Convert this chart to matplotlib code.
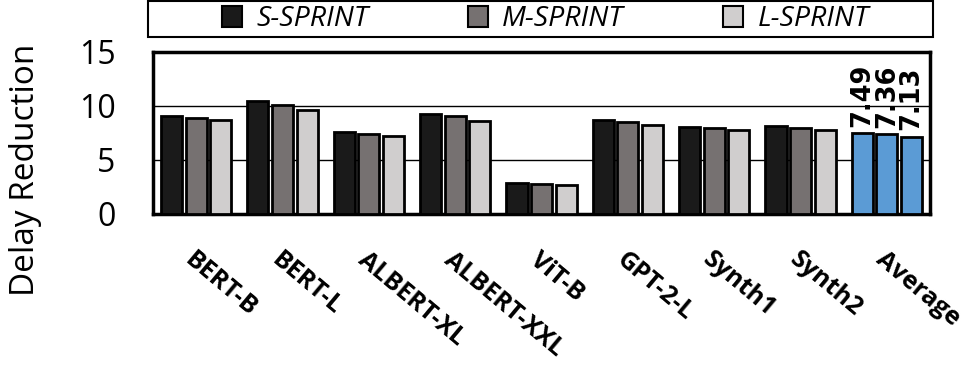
import matplotlib.pyplot as plt
import numpy as np

plt.rcParams['font.family'] = ['Open Sans', 'DejaVu Sans']

models = ["BERT-B", "BERT-L", "ALBERT-XL", "ALBERT-XXL", "ViT-B",
          "GPT-2-L", "Synth1", "Synth2", "Average"]
s_sprint = [9.06, 10.43, 7.54, 9.28, 2.82, 8.66, 8.07, 8.10, 7.49]
m_sprint = [8.91, 10.12, 7.42, 9.06, 2.76, 8.50, 7.98, 7.98, 7.36]
l_sprint = [8.66, 9.62, 7.20, 8.63, 2.70, 8.19, 7.73, 7.73, 7.13]
series = [("S-SPRINT", s_sprint, "#1a1a1a"),
          ("M-SPRINT", m_sprint, "#767171"),
          ("L-SPRINT", l_sprint, "#d0cece")]
avg_color = "#5b9bd5"

fig = plt.figure(figsize=(9.79, 3.76), dpi=100)
ax = fig.add_axes([0.1563, 0.431, 0.7937, 0.431])

x = np.arange(len(models))
w = 0.245
pitch = 0.285
handles = []
for i, (name, vals, col) in enumerate(series):
    cols = [col] * (len(models) - 1) + [avg_color]
    ax.bar(x + (i - 1) * pitch, vals, w, color=cols, edgecolor="black",
           linewidth=2, zorder=3, label=name)
    handles.append(plt.Rectangle((0, 0), 1, 1, facecolor=col,
                                 edgecolor="black", linewidth=1.5))
    ax.text(x[-1] + (i - 1) * pitch, vals[-1] + 0.6, f"{vals[-1]:.2f}",
            rotation=90, ha="center", va="bottom", fontsize=18.5,
            fontweight="bold", family=["DejaVu Sans"])

ax.set_xlim(-0.5, len(models) - 0.5)
ax.set_ylim(0, 15)
ax.set_yticks([0, 5, 10, 15])
ax.tick_params(axis="y", labelsize=23, length=0, pad=27)
ax.yaxis.grid(True, color="black", linewidth=1, zorder=0)
ax.set_axisbelow(True)
ax.set_xticks(x)
ax.set_xticklabels(models, rotation=-40, ha="left", va="top",
                   rotation_mode="anchor", fontsize=18, fontweight="bold")
ax.tick_params(axis="x", length=0, pad=24)
for sp in ax.spines.values():
    sp.set_linewidth(2.5)
ax.set_ylabel("Delay Reduction", fontsize=24)
ax.yaxis.set_label_coords(-0.143, 0.27)

# legend box across the top
fig.patches.append(plt.Rectangle((0.151, 0.902), 0.802, 0.095,
                                 transform=fig.transFigure, fill=False,
                                 edgecolor="black", linewidth=1.5))
fig.legend(handles, [s[0] for s in series], loc="center",
           bbox_to_anchor=(0.557, 0.949), ncol=3, frameon=False,
           prop={"style": "italic", "size": 20.5}, handlelength=0.7,
           handleheight=0.75, handletextpad=0.5, columnspacing=3.5,
           borderaxespad=0, borderpad=0)

fig.savefig("out.png", dpi=100)
